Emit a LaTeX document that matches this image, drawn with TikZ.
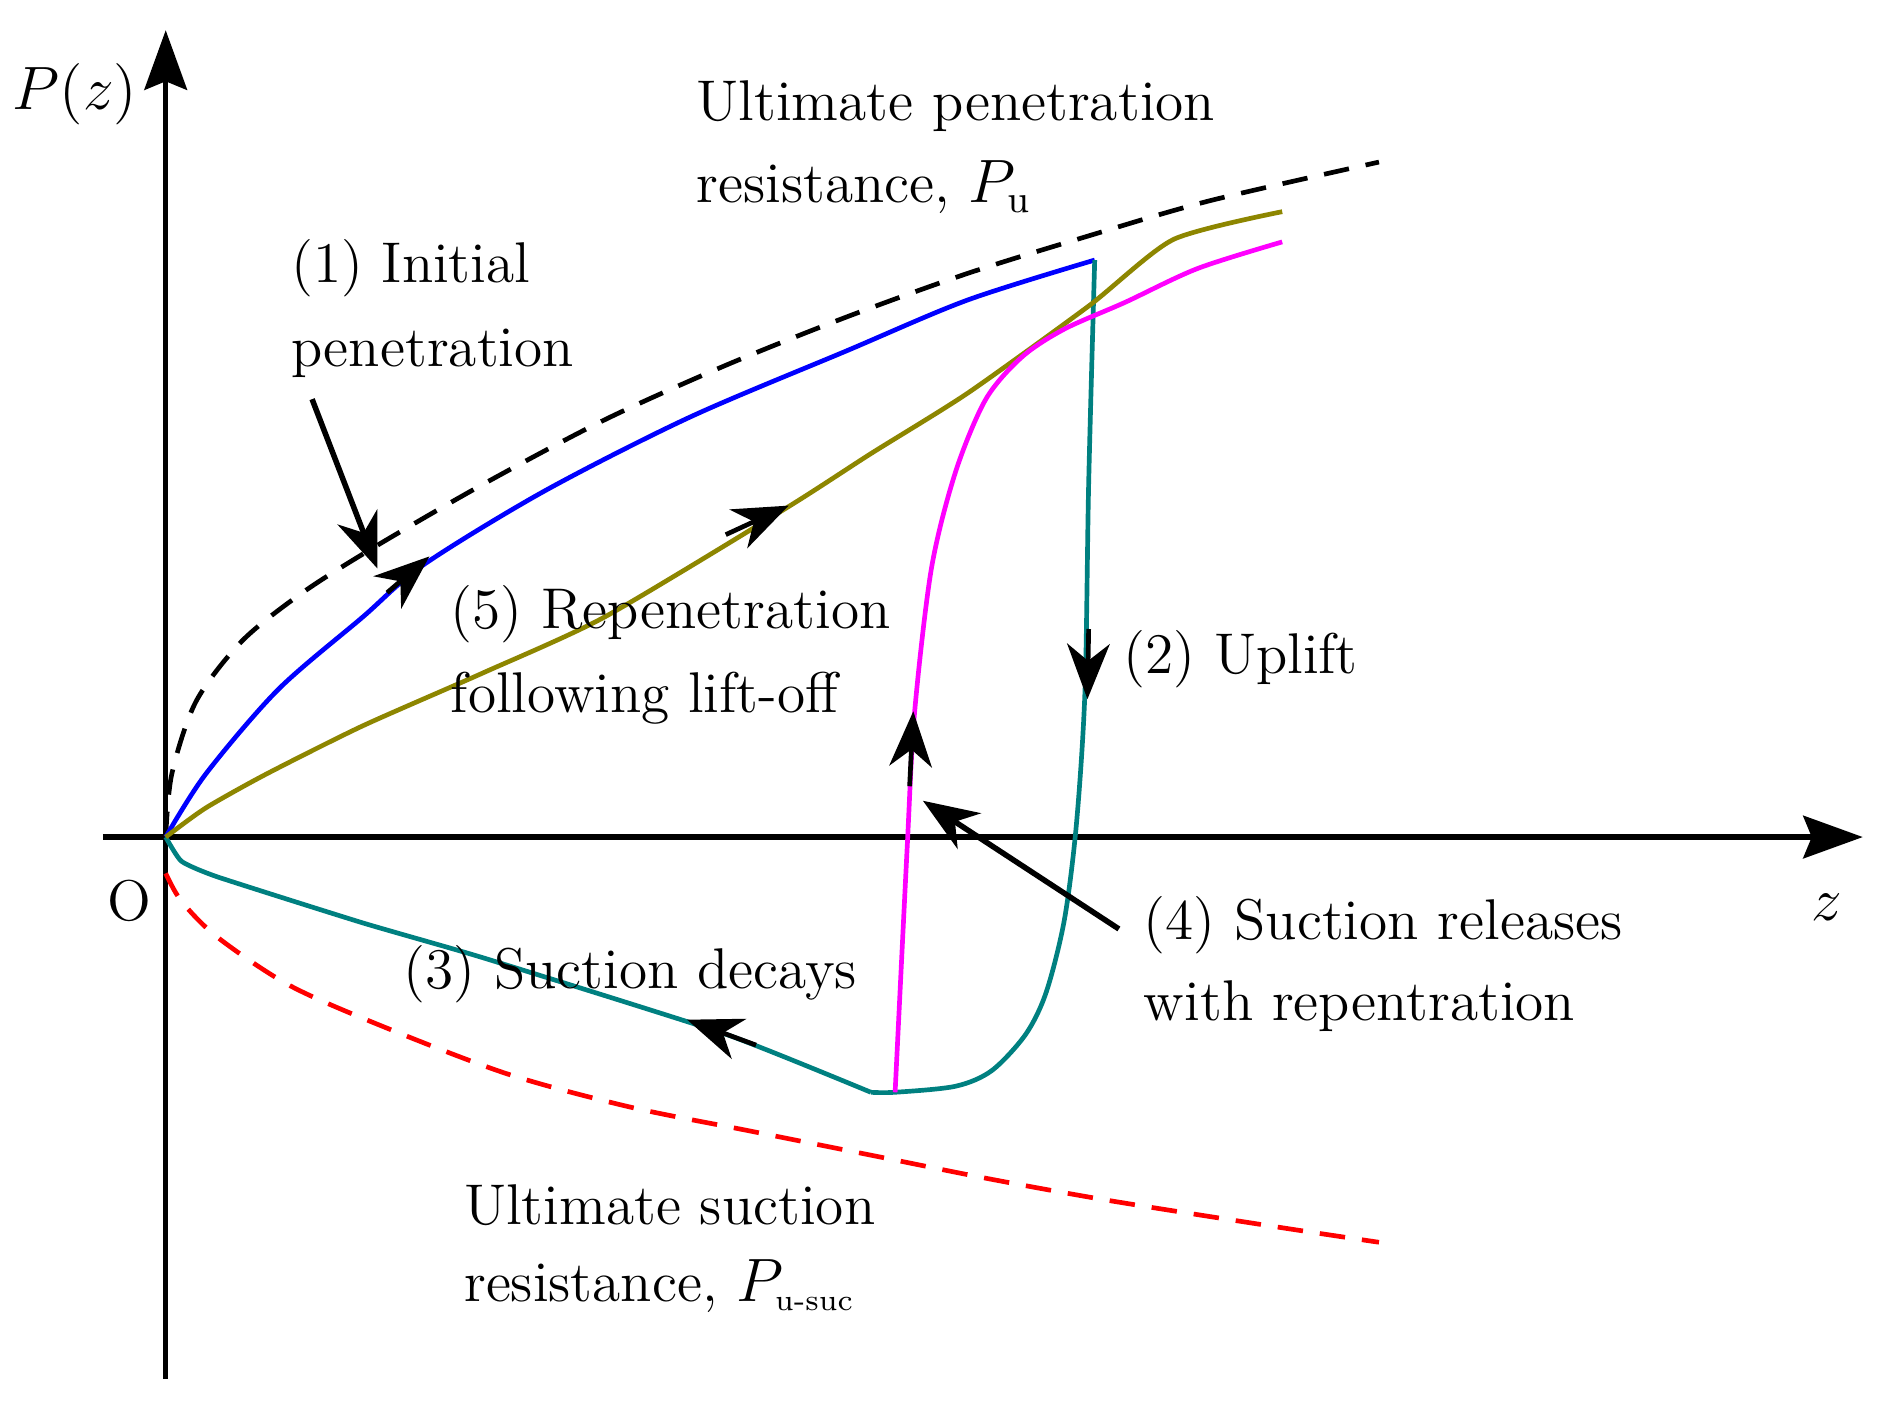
\documentclass[tikz,border=0pt]{standalone}
\usetikzlibrary{arrows.meta}
\definecolor{mag}{rgb}{1,0,1}
\begin{document}
\begin{tikzpicture}[x=0.01cm,y=-0.01cm,
  lbl/.style={anchor=west,inner sep=0pt,font=\fontsize{13.5}{16}\selectfont},
  big/.style={-{Stealth[length=13pt,width=10pt,inset=4pt]}},
  crv/.style={line width=1.1pt}]
\useasboundingbox (0,0) rectangle (1560,1158);
\coordinate (O) at (137,692);
\coordinate (ytop) at (137,25);
\coordinate (ybot) at (137,1140);
\coordinate (xl) at (85,692);
\coordinate (xr) at (1540,692);
\draw[line width=1.3pt,-{Stealth[length=14pt,width=10pt,inset=2pt]}] (ybot) -- (ytop);
\draw[line width=1.3pt,-{Stealth[length=14pt,width=10pt,inset=2pt]}] (xl) -- (xr);
% ultimate penetration
\draw[crv,dash pattern=on 6pt off 4pt] plot[smooth] coordinates {(137,692)(142,640)(162,580)(200,530)(250,490)(310,452)(400,400)(500,347)(600,302)(700,262)(800,226)(900,195)(1000,166)(1140,134)};
% ultimate suction
\draw[crv,red,dash pattern=on 6pt off 4pt] plot[smooth] coordinates {(137,722)(150,745)(180,775)(240,815)(320,850)(420,888)(520,915)(620,935)(720,955)(820,975)(920,993)(1060,1015)(1140,1027)};
% blue
\draw[crv,blue] plot[smooth] coordinates {(137,692)(170,640)(230,570)(300,510)(350,467)(450,406)(570,345)(700,290)(800,248)(905,215)};
% teal
\draw[crv,teal] plot[smooth,tension=0.5] coordinates {(905,215)(900,400)(897,570)(890,680)(880,760)(865,820)(848,855)(820,885)(790,898)(740,903)(720,903)};
\draw[crv,teal] plot[smooth,tension=0.3] coordinates {(720,903)(600,855)(400,792)(300,763)(180,725)(150,712)(137,692)};
% olive
\draw[crv,olive] plot[smooth,tension=0.4] coordinates {(137,692)(170,668)(220,640)(300,600)(400,556)(500,510)(650,420)(720,375)(800,325)(900,253)(970,198)(1060,175)};
% magenta
\draw[crv,mag] plot[smooth,tension=0.5] coordinates {(740,903)(750,700)(756,590)(770,470)(790,390)(815,330)(845,295)(880,272)(930,250)(990,222)(1060,200)};
% direction arrows
\coordinate (a1s) at (320,490); \coordinate (a1e) at (355,460);
\coordinate (a5s) at (600,442); \coordinate (a5e) at (652,418);
\coordinate (a2s) at (900,520); \coordinate (a2e) at (899,578);
\coordinate (a3s) at (625,864); \coordinate (a3e) at (568,843);
\coordinate (a4s) at (752,650); \coordinate (a4e) at (755,588);
\foreach \s/\e in {a1s/a1e,a5s/a5e,a2s/a2e,a3s/a3e,a4s/a4e} \draw[line width=1.1pt,big] (\s) -- (\e);
% labels
\node[inner sep=0pt,font=\fontsize{13.5}{16}\selectfont] (Pz) at (62,78) {$P(z)$};
\node[lbl] (up1) at (575,88) {Ultimate penetration};
\node[lbl] (up2) at (575,155) {resistance, $P_{\mathrm{u}}$};
\node[lbl] (ip1) at (240,222) {(1) Initial};
\node[lbl] (ip2) at (240,292) {penetration};
\node[lbl] (rp1) at (372,508) {(5) Repenetration};
\node[lbl] (rp2) at (372,577) {following lift-off};
\node[lbl] (ul) at (928,545) {(2) Uplift};
\node[lbl] (Olab) at (88,745) {O};
\node[lbl] (zlab) at (1497,750) {$z$};
\node[lbl] (sr1) at (945,765) {(4) Suction releases};
\node[lbl] (sr2) at (945,832) {with repentration};
\node[lbl] (sd) at (333,805) {(3) Suction decays};
\node[lbl] (us1) at (383,996) {Ultimate suction};
\node[lbl] (us2) at (383,1063) {resistance, $P_{\mbox{\scriptsize u-suc}}$};
% pointers
\coordinate (p1s) at (258,330); \coordinate (p1e) at (312,470);
\coordinate (p4s) at (925,768); \coordinate (p4e) at (763,662);
\draw[line width=1.3pt,big] (p1s) -- (p1e);
\draw[line width=1.3pt,big] (p4s) -- (p4e);
\end{tikzpicture}
\end{document}
